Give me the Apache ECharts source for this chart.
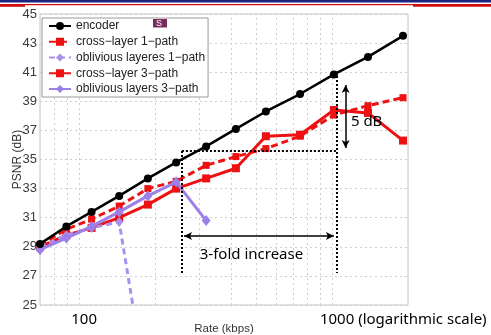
<!DOCTYPE html>
<html><head><meta charset="utf-8">
<script src="https://cdn.jsdelivr.net/npm/echarts@6/dist/echarts.min.js"></script>
<style>html,body{margin:0;padding:0;background:#fff}#c{width:491px;height:335px}</style>
</head><body><div id="c"></div>
<script>
// ---- data ----
const rates        = [70, 89, 112, 144, 187, 242, 318, 417, 548, 748, 1018, 1389, 1911];
const encoder      = [29.2, 30.4, 31.4, 32.5, 33.7, 34.8, 35.9, 37.1, 38.3, 39.5, 40.85, 42.05, 43.5];
const crossLayer1  = [29.1, 30.2, 30.9, 31.8, 33.0, 33.5, 34.6, 35.2, 35.75, 36.6, 38.05, 38.7, 39.25];
const oblivious1   = [29.0, 29.8, 30.3, 30.7, 18.7];
const crossLayer3  = [29.0, 29.8, 30.3, 31.0, 31.9, 33.0, 33.7, 34.4, 36.6, 36.7, 38.4, 38.2, 36.3];
const oblivious3   = [28.8, 29.6, 30.4, 31.4, 32.5, 33.45, 30.8];
const seriesNames  = ['encoder', 'cross\u2212layer 1\u2212path', 'oblivious layeres 1\u2212path', 'cross\u2212layer 3\u2212path', 'oblivious layers 3\u2212path'];
const xGridValues  = [80, 90, 100, 200, 300, 400, 500, 600, 700, 800, 900, 1000];
const xTickLabels  = ['100', '1000 (logarithmic scale)'];
const xTickValues  = [100, 1000];
const yMin = 25, yMax = 45, yStep = 2;
const xMin = 70, xMax = 2000;
const xName = 'Rate (kbps)', yName = 'PSNR (dB)';
const foldText = '3-fold increase', dbText = '5 dB';

// ---- annotation anchors (data space) ----
const boxLeft = 255, boxRight = 1047, boxTop = 35.58, boxBottom = 27.2, boxRightTop = 40.74;
const foldArrow = {x0: 260, x1: 1018, y: 29.74};
const dbArrow = {x: 1133, y0: 40.12, y1: 35.79};
const foldAnchor = [300, 28.44], dbAnchor = [1189, 37.58];

// ---- layout ----
const PLOT = {l: 40, t: 14, w: 368, h: 291};
const pairs = (vals) => vals.map((v, i) => [rates[i], v]);
const RED = '#ee1111', PUR = '#9c7fe8', PUR2 = '#a991f0';
const BASE_FONT = 'Liberation Sans, Arial, sans-serif';

const chart = echarts.init(document.getElementById('c'));
const gridLine = {type: [2, 3], color: '#cfcfcf', width: 1};
const option = {
  animation: false,
  backgroundColor: '#fff',
  textStyle: {fontFamily: BASE_FONT},
  grid: {left: PLOT.l, top: PLOT.t, width: PLOT.w, height: PLOT.h, show: true,
         borderColor: '#c4c4c4', borderWidth: 1, containLabel: false, outerBoundsMode: 'none'},
  xAxis: {
    type: 'log', logBase: 10, min: xMin, max: xMax,
    axisLine: {show: false}, axisTick: {show: false}, axisLabel: {show: false},
    splitLine: {show: false}
  },
  yAxis: {
    type: 'value', min: yMin, max: yMax, interval: yStep,
    axisLine: {show: false}, axisTick: {show: false},
    axisLabel: {fontSize: 13, color: '#3a3a3a', margin: 3, fontFamily: BASE_FONT},
    splitLine: {show: true, lineStyle: gridLine},
    name: yName, nameLocation: 'middle', nameGap: 16, nameMoveOverlap: false,
    nameTextStyle: {fontSize: 12, color: '#333', fontFamily: BASE_FONT}
  },
  legend: {
    data: seriesNames, orient: 'vertical', left: 42, top: 18,
    padding: [2, 3, 2, 6], itemGap: 3.75, itemWidth: 22, itemHeight: 10,
    backgroundColor: '#fff', borderColor: '#9a9a9a', borderWidth: 1,
    textStyle: {fontSize: 12, color: '#222', fontFamily: BASE_FONT}
  },
  series: [
    {
      name: 'grid', type: 'line', data: [], silent: true, z: 1,
      markLine: {
        silent: true, symbol: 'none', z: 1, animation: false, label: {show: false},
        lineStyle: gridLine,
        data: xGridValues.map(v => ({xAxis: v}))
      }
    },
    {
      name: seriesNames[1], type: 'line', data: pairs(crossLayer1), z: 3,
      symbol: 'rect', symbolSize: 7, itemStyle: {color: RED},
      lineStyle: {color: RED, width: 3, type: [7, 4]}
    },
    {
      name: seriesNames[3], type: 'line', data: pairs(crossLayer3), z: 4,
      symbol: 'rect', symbolSize: 8, itemStyle: {color: RED},
      lineStyle: {color: RED, width: 3}
    },
    {
      name: seriesNames[2], type: 'line', data: pairs(oblivious1), z: 5,
      symbol: 'diamond', symbolSize: [8, 10], itemStyle: {color: PUR2},
      lineStyle: {color: PUR2, width: 3, type: [6, 4]}
    },
    {
      name: seriesNames[4], type: 'line', data: pairs(oblivious3), z: 6,
      symbol: 'diamond', symbolSize: [9, 11], itemStyle: {color: PUR},
      lineStyle: {color: PUR, width: 3}
    },
    {
      name: seriesNames[0], type: 'line', data: pairs(encoder), z: 7,
      symbol: 'circle', symbolSize: 8, itemStyle: {color: '#000'},
      lineStyle: {color: '#000', width: 2.5},
      markLine: {
        silent: true, animation: false, z: 8, label: {show: false},
        data: [
          [{coord: [boxLeft, boxTop], symbol: 'none', lineStyle: {type: [2, 2], width: 2, color: '#000'}},
           {coord: [boxRight, boxTop], symbol: 'none'}],
          [{coord: [boxLeft, boxTop], symbol: 'none', lineStyle: {type: [2, 2], width: 2, color: '#000'}},
           {coord: [boxLeft, boxBottom], symbol: 'none'}],
          [{coord: [boxRight, boxRightTop], symbol: 'none', lineStyle: {type: [2, 2], width: 2, color: '#000'}},
           {coord: [boxRight, boxBottom], symbol: 'none'}],
          [{coord: [foldArrow.x0, foldArrow.y], symbol: 'arrow', symbolSize: [6, 8], lineStyle: {type: 'solid', width: 1.5, color: '#000'}},
           {coord: [foldArrow.x1, foldArrow.y], symbol: 'arrow', symbolSize: [6, 8]}],
          [{coord: [dbArrow.x, dbArrow.y0], symbol: 'arrow', symbolSize: [6, 8], lineStyle: {type: 'solid', width: 1.5, color: '#000'}},
           {coord: [dbArrow.x, dbArrow.y1], symbol: 'arrow', symbolSize: [6, 8]}]
        ]
      }
    }
  ]
};
chart.setOption(option);

// ---- text overlays positioned through the axes ----
const px = (x, y) => chart.convertToPixel({gridIndex: 0}, [x, y]);
const slideFont = '"Noto Sans", "Open Sans", sans-serif';
const graphics = [
  {type: 'rect', shape: {x: 0, y: 0, width: 491, height: 2.5}, style: {fill: '#1c2380'}},
  {type: 'rect', shape: {x: 0, y: 4, width: 491, height: 1.2}, style: {fill: '#d01010'}},
  {type: 'rect', shape: {x: 0, y: 4, width: 25, height: 2.8}, style: {fill: '#d01010'}},
  {type: 'rect', shape: {x: 413, y: 4, width: 78, height: 2.8}, style: {fill: '#d01010'}},
  {type: 'rect', shape: {x: 153, y: 19, width: 14, height: 8.5}, style: {fill: '#7a2c5e'}, z: 100},
  {type: 'text', x: 156, y: 23.2, style: {text: 'S', fill: '#fff', font: '9px "Liberation Sans", Arial', textVerticalAlign: 'middle'}, z: 101},
  {type: 'text', x: PLOT.l + PLOT.w / 2, y: PLOT.t + PLOT.h + 24, style: {text: xName, fill: '#333', font: '11.5px ' + BASE_FONT, textAlign: 'center', textVerticalAlign: 'middle'}}
];
const p100 = px(xTickValues[0], yMin), p1000 = px(xTickValues[1], yMin);
graphics.push({type: 'text', x: p100[0] + 5, y: p100[1] + 15, style: {text: xTickLabels[0], fill: '#000', font: '15px ' + slideFont, textAlign: 'center', textVerticalAlign: 'middle'}});
graphics.push({type: 'text', x: p1000[0] - 12, y: p1000[1] + 15, style: {text: xTickLabels[1], fill: '#000', font: '15px ' + slideFont, textAlign: 'left', textVerticalAlign: 'middle'}});
const pf = px(foldAnchor[0], foldAnchor[1]);
graphics.push({type: 'text', x: pf[0], y: pf[1], style: {text: foldText, fill: '#000', font: '15px ' + slideFont, textAlign: 'left', textVerticalAlign: 'middle'}, z: 50});
const pd = px(dbAnchor[0], dbAnchor[1]);
graphics.push({type: 'text', x: pd[0], y: pd[1], style: {text: dbText, fill: '#000', font: '15px ' + slideFont, textAlign: 'left', textVerticalAlign: 'middle'}, z: 50});
chart.setOption({graphic: graphics});
</script>
</body></html>
